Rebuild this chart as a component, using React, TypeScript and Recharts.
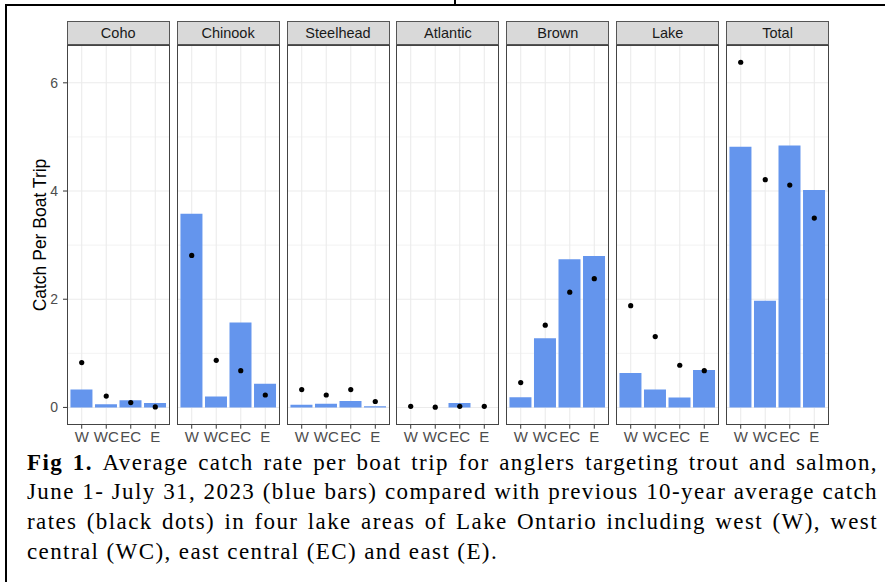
import { ComposedChart, Bar, Line, XAxis, YAxis, CartesianGrid } from "recharts";

// lake areas (x axis) and species facets
const areas = ["W", "WC", "EC", "E"];
const species = ["Coho", "Chinook", "Steelhead", "Atlantic", "Brown", "Lake", "Total"];

// 2023 catch per boat trip (blue bars)
const coho2023 = [0.33, 0.06, 0.135, 0.08];
const chinook2023 = [3.58, 0.2, 1.57, 0.44];
const steelhead2023 = [0.05, 0.07, 0.12, 0.02];
const atlantic2023 = [0, 0, 0.08, 0];
const brown2023 = [0.19, 1.28, 2.74, 2.8];
const lake2023 = [0.635, 0.33, 0.185, 0.69];
const total2023 = [4.82, 1.97, 4.84, 4.02];

// previous 10-year average (black dots)
const cohoAvg = [0.83, 0.21, 0.09, 0.01];
const chinookAvg = [2.81, 0.87, 0.68, 0.23];
const steelheadAvg = [0.33, 0.23, 0.33, 0.11];
const atlanticAvg = [0.02, 0.005, 0.02, 0.02];
const brownAvg = [0.46, 1.52, 2.13, 2.38];
const lakeAvg = [1.88, 1.31, 0.78, 0.68];
const totalAvg = [6.38, 4.21, 4.11, 3.5];

const yTicks = [0, 2, 4, 6];

const current = [coho2023, chinook2023, steelhead2023, atlantic2023, brown2023, lake2023, total2023];
const average = [cohoAvg, chinookAvg, steelheadAvg, atlanticAvg, brownAvg, lakeAvg, totalAvg];

const SANS = '"Liberation Sans", Arial, sans-serif';
const PANEL_W = 103;
const PITCH = 109.9;
const LEFT0 = 66.7;
const STRIP_TOP = 21;
const STRIP_H = 24.3;
const PLOT_TOP = STRIP_TOP + STRIP_H;
const PLOT_H = 425 - PLOT_TOP;
const XAXIS_H = 32;
const YAXIS_W = 30;

const captionLines = [
  "Average catch rate per boat trip for anglers targeting trout and salmon,",
  "June 1- July 31, 2023 (blue bars) compared with previous 10-year average catch",
  "rates (black dots) in four lake areas of Lake Ontario including west (W), west",
  "central (WC), east central (EC) and east (E).",
];

function Facet({ idx }: { idx: number }) {
  const data = areas.map((a, i) => ({ x: i + 1, area: a, cur: current[idx][i], avg: average[idx][i] }));
  const first = idx === 0;
  const left = LEFT0 + idx * PITCH;
  const w = PANEL_W + (first ? YAXIS_W : 0);
  return (
    <>
      <div
        style={{
          position: "absolute",
          left,
          top: STRIP_TOP,
          width: PANEL_W,
          height: STRIP_H,
          boxSizing: "border-box",
          background: "#D9D9D9",
          border: "1px solid #555",
          color: "#1A1A1A",
          fontFamily: SANS,
          fontSize: 14.5,
          lineHeight: `${STRIP_H - 2}px`,
          textAlign: "center",
        }}
      >
        {species[idx]}
      </div>
      <div style={{ position: "absolute", left: left - (first ? YAXIS_W : 0), top: PLOT_TOP }}>
        <ComposedChart
          width={w}
          height={PLOT_H + XAXIS_H}
          data={data}
          margin={{ top: 0, right: 0, bottom: 0, left: 0 }}
          style={{ fontFamily: SANS }}
        >
          <CartesianGrid
            stroke="#EBEBEB"
            strokeWidth={0.6}
            vertical={false}
            horizontalValues={[1, 3, 5]}
          />
          <CartesianGrid
            stroke="#EBEBEB"
            strokeWidth={1.1}
            horizontalValues={yTicks}
            verticalValues={[1, 2, 3, 4]}
          />
          <XAxis
            dataKey="x"
            type="number"
            domain={[0.4, 4.6]}
            ticks={[1, 2, 3, 4]}
            tickFormatter={(v: number) => areas[v - 1]}
            interval={0}
            allowDataOverflow
            height={XAXIS_H}
            axisLine={false}
            tickSize={4}
            tickMargin={3}
            tickLine={{ stroke: "#333" }}
            tick={{ fill: "#4D4D4D", fontSize: 15 }}
          />
          <YAxis
            hide={!first}
            type="number"
            domain={[-0.319, 6.699]}
            ticks={yTicks}
            allowDataOverflow
            width={YAXIS_W}
            axisLine={false}
            tickSize={4}
            tickMargin={5}
            tickLine={{ stroke: "#333" }}
            tick={{ fill: "#4D4D4D", fontSize: 14 }}
          />
          <Bar dataKey="cur" fill="#6495ED" barSize={22} isAnimationActive={false} />
          <Line
            dataKey="avg"
            stroke="none"
            dot={{ r: 2.6, fill: "#000", stroke: "none" }}
            activeDot={false}
            isAnimationActive={false}
          />
        </ComposedChart>
      </div>
      <div
        style={{
          position: "absolute",
          left,
          top: PLOT_TOP,
          width: PANEL_W,
          height: PLOT_H,
          boxSizing: "border-box",
          border: "1px solid #444",
          pointerEvents: "none",
        }}
      />
    </>
  );
}

export default function App() {
  return (
    <div style={{ position: "absolute", left: 0, top: 0, width: 885, height: 582, background: "#fff", overflow: "hidden" }}>
      {/* frame */}
      <div style={{ position: "absolute", left: 5, top: 4, width: 880, height: 2, background: "#000" }} />
      <div style={{ position: "absolute", left: 5, top: 4, width: 2, height: 578, background: "#000" }} />
      <div style={{ position: "absolute", left: 454, top: 0, width: 2, height: 5, background: "#000" }} />

      <div
        style={{
          position: "absolute",
          left: 39.5,
          top: 235,
          transform: "translate(-50%, -50%) rotate(-90deg)",
          fontFamily: SANS,
          fontSize: 17.5,
          color: "#000",
          whiteSpace: "nowrap",
        }}
      >
        Catch Per Boat Trip
      </div>

      {species.map((_, i) => (
        <Facet key={i} idx={i} />
      ))}

      <div
        style={{
          position: "absolute",
          left: 27,
          top: 447.5,
          width: 851,
          fontFamily: '"Liberation Serif", "Times New Roman", serif',
          fontSize: 23,
          letterSpacing: 1.4,
          lineHeight: "29.7px",
          color: "#000",
        }}
      >
        {captionLines.map((t, i) => (
          <div
            key={i}
            style={{
              textAlign: "justify",
              textAlignLast: i < captionLines.length - 1 ? "justify" : "left",
              whiteSpace: "nowrap",
            }}
          >
            {i === 0 && <b>Fig 1. </b>}
            {t}
          </div>
        ))}
      </div>
    </div>
  );
}
